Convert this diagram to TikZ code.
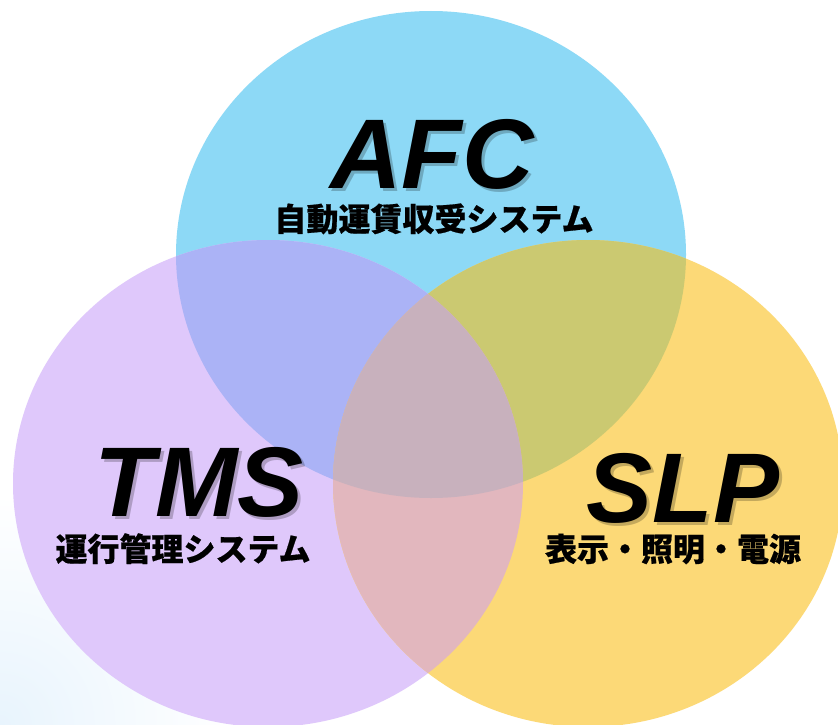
\documentclass[tikz,border=0pt]{standalone}
\usepackage{fontspec}
\setmainfont{Liberation Sans}
\newfontfamily\jpfont{Noto Sans CJK JP}[BoldFeatures={FakeBold=0.6}]
\definecolor{cblue}{HTML}{8DD9F6}
\definecolor{cpurple}{HTML}{DFC8FB}
\definecolor{cyellow}{HTML}{FCD977}
\definecolor{cbp}{HTML}{ABB3F6}
\definecolor{cby}{HTML}{CBC971}
\definecolor{cpy}{HTML}{E2B7BE}
\definecolor{cbpy}{HTML}{C8B1BD}
\definecolor{corner}{HTML}{E8F4FD}
\tikzset{
  big/.style={font=\fontsize{99}{99}\selectfont\bfseries\itshape, inner sep=0pt, anchor=base},
  sub/.style={font=\jpfont\bfseries\fontsize{32}{32}\selectfont, inner sep=0pt, anchor=base},
  shadowtext/.style={big, text=black, opacity=0.22},
}
\newcommand{\ellA}{(431,254.5) ellipse [x radius=255pt, y radius=243.5pt]}
\newcommand{\ellB}{(268,483.5) ellipse [x radius=255pt, y radius=243.5pt]}
\newcommand{\ellC}{(588,483.5) ellipse [x radius=255pt, y radius=243.5pt]}
\begin{document}
\begin{tikzpicture}[x=1pt,y=-1pt]
\useasboundingbox (0,0) rectangle (838,725);
\fill[white] (0,0) rectangle (838,725);
\begin{scope}
  \clip (0,0) rectangle (838,725);
  \shade[inner color=corner, outer color=white] (0,725) circle (230pt);
  % base ellipses
  \fill[cblue] \ellA;
  \fill[cpurple] \ellB;
  \fill[cyellow] \ellC;
  % pairwise overlaps
  \begin{scope}\clip \ellA; \fill[cbp] \ellB; \end{scope}
  \begin{scope}\clip \ellA; \fill[cby] \ellC; \end{scope}
  \begin{scope}\clip \ellB; \fill[cpy] \ellC; \end{scope}
  \begin{scope}\clip \ellA; \clip \ellB; \fill[cbpy] \ellC; \end{scope}
\end{scope}
% titles with soft shadow
\node[shadowtext] (afcsh) at (435,191) {AFC};
\node[big] (afc) at (432,188) {AFC};
\node[sub] (afcsub) at (434,231) {自動運賃収受システム};
\node[shadowtext] (tmssh) at (202,519) {TMS};
\node[big] (tms) at (199,516) {TMS};
\node[sub] (tmssub) at (183,561) {運行管理システム};
\node[shadowtext] (slpsh) at (686,525) {SLP};
\node[big] (slp) at (683,522) {SLP};
\node[sub] (slpsub) at (673,561) {表示・照明・電源};
\end{tikzpicture}
\end{document}
